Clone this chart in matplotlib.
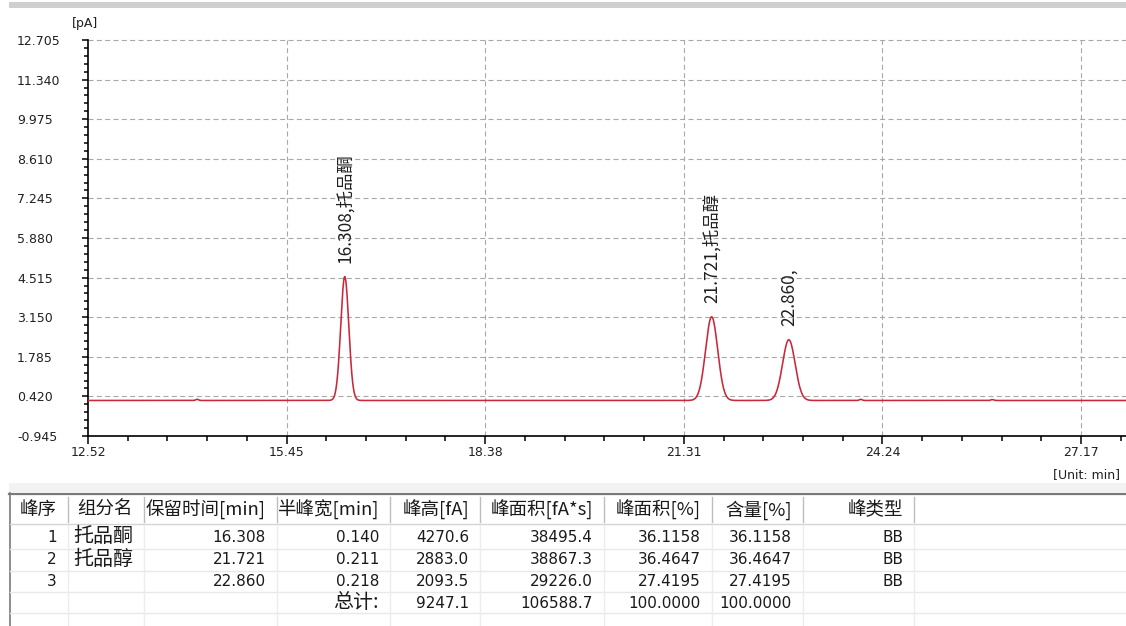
import numpy as np
import matplotlib
matplotlib.use('Agg')
import matplotlib.pyplot as plt
from matplotlib.ticker import FixedLocator
from matplotlib.patches import Rectangle

W, H = 1126, 626

# peak table (FID report)
peak_no = ['1', '2', '3']
peak_names = ['托品酮', '托品醇', '']
ret_time = [16.308, 21.721, 22.860]          # min
half_width = [0.140, 0.211, 0.218]           # min
peak_height = [4270.6, 2883.0, 2093.5]       # fA
peak_area = [38495.4, 38867.3, 29226.0]      # fA*s
area_pct = [36.1158, 36.4647, 27.4195]
content_pct = [36.1158, 36.4647, 27.4195]
peak_type = ['BB', 'BB', 'BB']

# small baseline disturbances (min, pA)
minor_rt = [14.13, 23.92, 25.86]
minor_h = [0.04, 0.04, 0.03]
baseline = 0.28   # pA

headers = ['峰序', '组分名', '保留时间[min]', '半峰宽[min]', '峰高[fA]',
           '峰面积[fA*s]', '峰面积[%]', '含量[%]', '峰类型']

CJK = ['Noto Sans CJK SC', 'DejaVu Sans']
NUM = ['DejaVu Sans', 'Noto Sans CJK SC']
plt.rcParams['font.family'] = NUM

fig = plt.figure(figsize=(W / 100, H / 100), dpi=100)

# full-figure pixel canvas for window chrome and the table
frame = fig.add_axes([0, 0, 1, 1], zorder=0)
frame.set_xlim(0, W)
frame.set_ylim(H, 0)
frame.axis('off')

ax = fig.add_axes([88 / W, 1 - 436 / H, (W - 88) / W, 396 / H], zorder=1)
ax.patch.set_alpha(0)

# rebuild the trace from the integrated peaks
t = np.arange(12.52, 27.84, 0.004)
sig = np.full_like(t, baseline)
for r, w, h in zip(ret_time, half_width, peak_height):
    s = w / 2.3548
    sig += h / 1000.0 * np.exp(-0.5 * ((t - r) / s) ** 2)
for r, h in zip(minor_rt, minor_h):
    sig += h * np.exp(-0.5 * ((t - r) / 0.02) ** 2)
ax.plot(t, sig, color='#c8283a', lw=1.15, zorder=3)

xt = 12.52 + 2.93 * np.arange(6)
yt = -0.945 + 1.365 * np.arange(11)
ax.set_xlim(12.52, 12.52 + (W - 88) / 67.78)
ax.set_ylim(-0.945, 12.705)
ax.set_xticks(xt)
ax.set_xticklabels(['%.2f' % v for v in xt])
ax.set_yticks(yt)
ax.set_yticklabels(['%.3f' % v for v in yt])
ax.xaxis.set_minor_locator(FixedLocator(np.arange(12.52, 27.84, 0.586)))
ax.yaxis.set_minor_locator(FixedLocator(np.arange(-0.945, 12.71, 0.273)))

for v in xt[1:]:
    ax.axvline(v, color='#a8a8a8', lw=0.8, ls=(0, (4.5, 3)), zorder=1)
for v in yt[1:]:
    ax.axhline(v, color='#a8a8a8', lw=0.8, ls=(0, (4.5, 3)), zorder=1, clip_on=False)

for sp in ('top', 'right'):
    ax.spines[sp].set_visible(False)
for sp in ('left', 'bottom'):
    ax.spines[sp].set_linewidth(1.2)

ax.tick_params(axis='x', which='major', length=5.8, width=1.1, pad=1.5,
               labelsize=9, labelcolor='#202020')
ax.tick_params(axis='x', which='minor', length=3.6, width=1.1)
ax.tick_params(axis='y', which='major', length=4.3, width=1.1, pad=46.8,
               labelsize=9, labelcolor='#202020')
ax.tick_params(axis='y', which='minor', length=2.9, width=1.1)
for lab in ax.get_yticklabels():
    lab.set_horizontalalignment('left')

for r, n, h in zip(ret_time, peak_names, peak_height):
    ax.annotate('%.3f,%s' % (r, n), xy=(r, baseline + h / 1000.0),
                xytext=(0, 10), textcoords='offset points', rotation=90,
                ha='center', va='bottom', fontsize=12.5, family=CJK,
                color='#202020')

frame.text(72, 23, '[pA]', fontsize=9, ha='left', va='center', color='#202020')
frame.text(1053, 475, '[Unit: min]', fontsize=9, ha='left', va='center',
           color='#202020')

# window chrome
frame.add_patch(Rectangle((9, 2), W - 9, 6, facecolor='#cfcfcf', edgecolor='none'))
frame.add_patch(Rectangle((9, 483), W - 9, 9, facecolor='#f2f2f2', edgecolor='none'))
frame.plot([9, W], [493.5, 493.5], color='#7a7a7a', lw=1.6)
frame.plot([9.5, 9.5], [493, H], color='#7a7a7a', lw=1.2)

# table grid
col_edges = [10, 68, 144, 277, 390, 480, 604, 712, 803, 914]
header_y = 510
row_y = [537, 559.5, 581.5, 603]
row_lines = [549, 571, 592, 613]

frame.plot([10, W], [524, 524], color='#d4d4d4', lw=1.0)
for y in row_lines:
    frame.plot([10, W], [y, y], color='#e8e8e8', lw=1.0)
for x in col_edges[1:]:
    frame.plot([x, x], [497, 522], color='#bdbdbd', lw=1.0)
    frame.plot([x, x], [525, H], color='#ececec', lw=1.0)

for i, hd in enumerate(headers):
    frame.text(col_edges[i + 1] - 11, header_y, hd, fontsize=13.3, family=CJK,
               ha='right', va='center', color='#1a1a1a')

right = [e - 11 for e in col_edges[1:]]
for k in range(len(peak_no)):
    y = row_y[k]
    cells = [peak_no[k], None, '%.3f' % ret_time[k], '%.3f' % half_width[k],
             '%.1f' % peak_height[k], '%.1f' % peak_area[k],
             '%.4f' % area_pct[k], '%.4f' % content_pct[k], peak_type[k]]
    for c, txt in enumerate(cells):
        if txt is None:
            continue
        frame.text(right[c], y, txt, fontsize=11, family=NUM, ha='right',
                   va='center', color='#1a1a1a')
    if peak_names[k]:
        frame.text(col_edges[1] + 5, y, peak_names[k], fontsize=14.4, family=CJK,
                   ha='left', va='center', color='#1a1a1a')

y = row_y[3]
frame.text(right[3], y, '总计:', fontsize=14.4, family=CJK, ha='right',
           va='center', color='#1a1a1a')
totals = ['%.1f' % sum(peak_height), '%.1f' % sum(peak_area),
          '%.4f' % sum(area_pct), '%.4f' % sum(content_pct)]
for c, txt in zip([4, 5, 6, 7], totals):
    frame.text(right[c], y, txt, fontsize=11, family=NUM, ha='right',
               va='center', color='#1a1a1a')

fig.savefig('out.png', dpi=100)
